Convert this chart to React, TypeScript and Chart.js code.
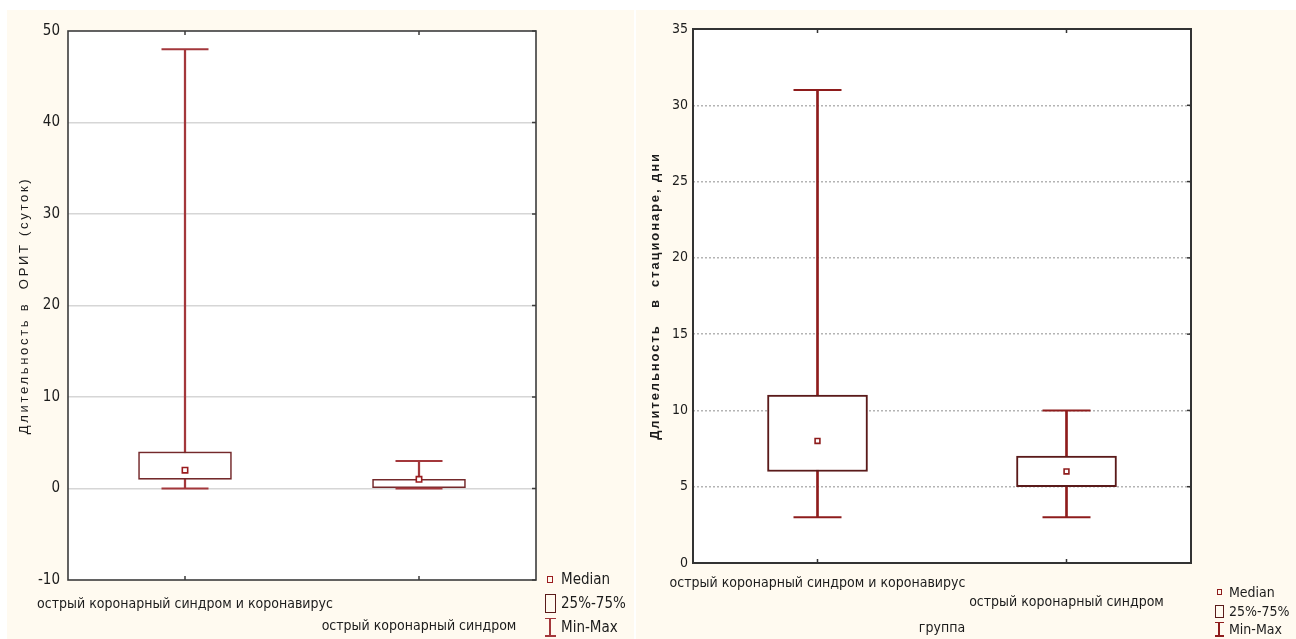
import React, { useEffect, useRef } from "react";
import { Chart, registerables } from "chart.js";

Chart.register(...registerables);

// ---------- data ----------
const groups = ["острый коронарный синдром и коронавирус", "острый коронарный синдром"];

// Left panel: duration in ICU (days)
const icuMin = [0, 0];
const icuQ1 = [1, 0];
const icuMedian = [2, 1];
const icuQ3 = [4, 1];
const icuMax = [48, 3];
const icuAxis = { min: -10, max: 50, step: 10 };
const icuTitle = "Длительность в  ОРИТ (суток)";

// Right panel: duration in hospital (days)
const stayMin = [3, 3];
const stayQ1 = [6, 5];
const stayMedian = [8, 6];
const stayQ3 = [11, 7];
const stayMax = [31, 10];
const stayAxis = { min: 0, max: 35, step: 5 };
const stayTitle = "Длительность   в  стационаре, дни";
const stayXTitle = "группа";

const legendLabels = ["Median", "25%-75%", "Min-Max"];

// ---------- styles ----------
const NARROW = "'Liberation Sans Narrow', 'Arial Narrow', 'DejaVu Sans Condensed', 'Liberation Sans', sans-serif";
const SANS = "'Liberation Sans', Arial, sans-serif";
const PANEL_BG = "#FFFAF0";
const TEXT = "#1c1c1c";

type PanelOpts = {
  width: number;
  height: number;
  mins: number[];
  q1: number[];
  med: number[];
  q3: number[];
  maxs: number[];
  axis: { min: number; max: number; step: number };
  title: string;
  titleBold: boolean;
  titleSpacing: string;
  titlePadTop: number;
  xTitle?: string;
  padding: { top: number; right: number; left: number; bottom: number };
  yWidth: number;
  xHeight: number;
  yTickPad: number;
  yTickSize: number;
  xTickSize: number;
  xLineHeight: number;
  xTickPad: number;
  boxWidth: number;
  boxLine: number;
  whiskerLine: number;
  capRadius: number;
  medRadius: number;
  whiskerColor: string;
  boxColor: string;
  medColor: string;
  gridColor: string;
  gridDash: number[];
  frameColor: string;
  frameWidth: number;
};

function makeChart(canvas: HTMLCanvasElement, o: PanelOpts) {
  const labels = groups.map((g, i) => (i === 0 ? [g, ""] : ["", g]));
  const framePlugin = {
    id: "frame" + Math.random().toString(36).slice(2),
    beforeDraw(chart: any) {
      const { ctx, chartArea: a } = chart;
      ctx.save();
      ctx.fillStyle = "#ffffff";
      ctx.fillRect(a.left, a.top, a.right - a.left, a.bottom - a.top);
      ctx.restore();
      const s = chart.scales.y;
      if (s && !s.__spaced) {
        const orig = s.drawTitle.bind(s);
        s.drawTitle = function () {
          ctx.save();
          ctx.letterSpacing = o.titleSpacing;
          orig();
          ctx.restore();
        };
        s.__spaced = true;
      }
    },
    afterDraw(chart: any) {
      const { ctx, chartArea: a } = chart;
      ctx.save();
      ctx.strokeStyle = o.frameColor;
      ctx.lineWidth = o.frameWidth;
      ctx.strokeRect(a.left, a.top, a.right - a.left, a.bottom - a.top);
      ctx.lineWidth = 1.5;
      const xs = chart.scales.x;
      xs.ticks.forEach((_: any, i: number) => {
        const px = xs.getPixelForTick(i);
        ctx.beginPath();
        ctx.moveTo(px, a.top);
        ctx.lineTo(px, a.top + 4);
        ctx.moveTo(px, a.bottom);
        ctx.lineTo(px, a.bottom - 4);
        ctx.stroke();
      });
      const ys = chart.scales.y;
      ys.ticks.forEach((_: any, i: number) => {
        const py = ys.getPixelForTick(i);
        ctx.beginPath();
        ctx.moveTo(a.right - 4, py);
        ctx.lineTo(a.right, py);
        ctx.stroke();
      });
      ctx.restore();
    },
  };

  return new Chart(canvas, {
    type: "bar",
    data: {
      labels,
      datasets: [
        {
          type: "bar",
          label: "whisker",
          data: groups.map((_, i) => [o.mins[i], o.maxs[i]]),
          barThickness: o.whiskerLine,
          backgroundColor: o.whiskerColor,
          borderWidth: 0,
          grouped: false,
          order: 5,
        } as any,
        {
          type: "bar",
          label: "25%-75%",
          data: groups.map((_, i) => [o.q1[i], o.q3[i]]),
          barThickness: o.boxWidth,
          backgroundColor: "#ffffff",
          borderColor: o.boxColor,
          borderWidth: o.boxLine,
          borderSkipped: false,
          grouped: false,
          order: 4,
        } as any,
        {
          type: "line",
          label: "max",
          data: o.maxs,
          showLine: false,
          pointStyle: "line",
          pointRadius: o.capRadius,
          pointBorderWidth: 2,
          pointBorderColor: o.whiskerColor,
          order: 3,
        } as any,
        {
          type: "line",
          label: "min",
          data: o.mins,
          showLine: false,
          pointStyle: "line",
          pointRadius: o.capRadius,
          pointBorderWidth: 2,
          pointBorderColor: o.whiskerColor,
          order: 2,
        } as any,
        {
          type: "line",
          label: "Median",
          data: o.med,
          showLine: false,
          pointStyle: "rect",
          pointRadius: o.medRadius,
          pointBorderWidth: 1.6,
          pointBorderColor: o.medColor,
          pointBackgroundColor: "#ffffff",
          order: 1,
        } as any,
      ],
    },
    options: {
      responsive: false,
      animation: false,
      devicePixelRatio: 1,
      layout: { padding: o.padding, autoPadding: false },
      plugins: { legend: { display: false }, tooltip: { enabled: false } },
      events: [],
      scales: {
        x: {
          type: "category",
          offset: true,
          grid: { display: false, drawTicks: false },
          border: { display: false },
          ticks: {
            color: TEXT,
            padding: o.xTickPad,
            maxRotation: 0,
            minRotation: 0,
            autoSkip: false,
            font: { family: NARROW, size: o.xTickSize, lineHeight: o.xLineHeight },
          },
          title: o.xTitle
            ? {
                display: true,
                text: o.xTitle,
                color: TEXT,
                padding: { top: 0, bottom: 2 },
                font: { family: NARROW, size: 14, lineHeight: 1.2 },
              }
            : { display: false },
          afterFit: (s: any) => {
            s.height = o.xHeight;
            s.paddingLeft = 0;
            s.paddingRight = 0;
          },
        } as any,
        y: {
          type: "linear",
          min: o.axis.min,
          max: o.axis.max,
          grid: {
            drawTicks: false,
            lineWidth: 1.5,
            color: (c: any) =>
              c.tick && (c.tick.value === o.axis.min || c.tick.value === o.axis.max) ? "rgba(0,0,0,0)" : o.gridColor,
          },
          border: { display: false, dash: o.gridDash },
          ticks: {
            stepSize: o.axis.step,
            color: TEXT,
            padding: o.yTickPad,
            font: { family: NARROW, size: o.yTickSize },
          },
          title: {
            display: true,
            text: o.title,
            color: TEXT,
            padding: { top: o.titlePadTop, bottom: 0 },
            font: { family: SANS, size: 13, weight: o.titleBold ? "bold" : "normal", lineHeight: 1.2 },
          },
          afterFit: (s: any) => {
            s.width = o.yWidth;
            s.paddingTop = 0;
            s.paddingBottom = 0;
          },
        } as any,
      },
    },
    plugins: [framePlugin as any],
  });
}

const leftOpts: PanelOpts = {
  width: 627,
  height: 629,
  mins: icuMin,
  q1: icuQ1,
  med: icuMedian,
  q3: icuQ3,
  maxs: icuMax,
  axis: icuAxis,
  title: icuTitle,
  titleBold: false,
  titleSpacing: "2.7px",
  titlePadTop: 10,
  padding: { top: 21, right: 98, left: 0, bottom: 0 },
  yWidth: 61,
  xHeight: 59,
  yTickPad: 8,
  yTickSize: 15,
  xTickSize: 14,
  xLineHeight: 1.57,
  xTickPad: 13,
  boxWidth: 93,
  boxLine: 1.6,
  whiskerLine: 1.6,
  capRadius: 23.5,
  medRadius: 3.8,
  whiskerColor: "#A3373B",
  boxColor: "#74292B",
  medColor: "#9A1C1F",
  gridColor: "#d6d6d6",
  gridDash: [],
  frameColor: "#3c3c3c",
  frameWidth: 1.6,
};

const rightOpts: PanelOpts = {
  width: 660,
  height: 629,
  mins: stayMin,
  q1: stayQ1,
  med: stayMedian,
  q3: stayQ3,
  maxs: stayMax,
  axis: stayAxis,
  title: stayTitle,
  titleBold: true,
  titleSpacing: "1.9px",
  titlePadTop: 12,
  xTitle: stayXTitle,
  padding: { top: 19, right: 105, left: 0, bottom: 0 },
  yWidth: 57,
  xHeight: 76,
  yTickPad: 5,
  yTickSize: 14,
  xTickSize: 14,
  xLineHeight: 1.357,
  xTickPad: 10.5,
  boxWidth: 100,
  boxLine: 2,
  whiskerLine: 2,
  capRadius: 24,
  medRadius: 3.4,
  whiskerColor: "#8E1C1C",
  boxColor: "#5A1A1A",
  medColor: "#8E1C1C",
  gridColor: "#b4b4b4",
  gridDash: [2, 2],
  frameColor: "#333333",
  frameWidth: 2,
};

function Panel({ left, opts }: { left: number; opts: PanelOpts }) {
  const ref = useRef<HTMLCanvasElement>(null);
  useEffect(() => {
    if (!ref.current) return;
    const ch = makeChart(ref.current, opts);
    return () => ch.destroy();
  }, []);
  return (
    <div
      style={{
        position: "absolute",
        left,
        top: 10,
        width: opts.width,
        height: opts.height,
        background: PANEL_BG,
      }}
    >
      <canvas ref={ref} width={opts.width} height={opts.height} style={{ display: "block" }} />
    </div>
  );
}

type LegendProps = {
  x: number;
  textX: number;
  ys: number[];
  size: number;
  med: { w: number; h: number; color: string };
  box: { w: number; h: number; color: string };
  mm: { w: number; h: number; color: string };
};

function Legend({ x, textX, ys, size, med, box, mm }: LegendProps) {
  const txt = (label: string, y: number) => (
    <div
      key={label}
      style={{
        position: "absolute",
        left: textX,
        top: y - size * 0.6,
        font: `${size}px ${NARROW}`,
        lineHeight: `${size * 1.2}px`,
        color: TEXT,
        whiteSpace: "nowrap",
      }}
    >
      {label}
    </div>
  );
  return (
    <>
      <div
        style={{
          position: "absolute",
          left: x - med.w / 2,
          top: ys[0] - med.h / 2,
          width: med.w,
          height: med.h,
          border: `1.5px solid ${med.color}`,
          boxSizing: "border-box",
        }}
      />
      <div
        style={{
          position: "absolute",
          left: x - box.w / 2,
          top: ys[1] - box.h / 2,
          width: box.w,
          height: box.h,
          border: `1.5px solid ${box.color}`,
          boxSizing: "border-box",
        }}
      />
      <div
        style={{
          position: "absolute",
          left: x - 0.75,
          top: ys[2] - mm.h / 2,
          width: 1.5,
          height: mm.h,
          background: mm.color,
        }}
      />
      <div style={{ position: "absolute", left: x - mm.w / 2, top: ys[2] - mm.h / 2, width: mm.w, height: 1.5, background: mm.color }} />
      <div style={{ position: "absolute", left: x - mm.w / 2, top: ys[2] + mm.h / 2 - 1.5, width: mm.w, height: 1.5, background: mm.color }} />
      {legendLabels.map((l, i) => txt(l, ys[i]))}
    </>
  );
}

export default function App() {
  return (
    <div
      style={{
        position: "absolute",
        left: 0,
        top: 0,
        width: 1296,
        height: 639,
        background: "#ffffff",
        overflow: "hidden",
      }}
    >
      <Panel left={7} opts={leftOpts} />
      <Panel left={636} opts={rightOpts} />
      <Legend
        x={550}
        textX={561}
        ys={[579, 603, 627]}
        size={15}
        med={{ w: 6, h: 7, color: "#9A1C1F" }}
        box={{ w: 11, h: 19, color: "#5A1A1A" }}
        mm={{ w: 11, h: 19, color: "#A3373B" }}
      />
      <Legend
        x={1219}
        textX={1229}
        ys={[592, 611, 629]}
        size={14}
        med={{ w: 5, h: 6, color: "#8E1C1C" }}
        box={{ w: 9, h: 13, color: "#5A1A1A" }}
        mm={{ w: 9, h: 15, color: "#8E1C1C" }}
      />
    </div>
  );
}
